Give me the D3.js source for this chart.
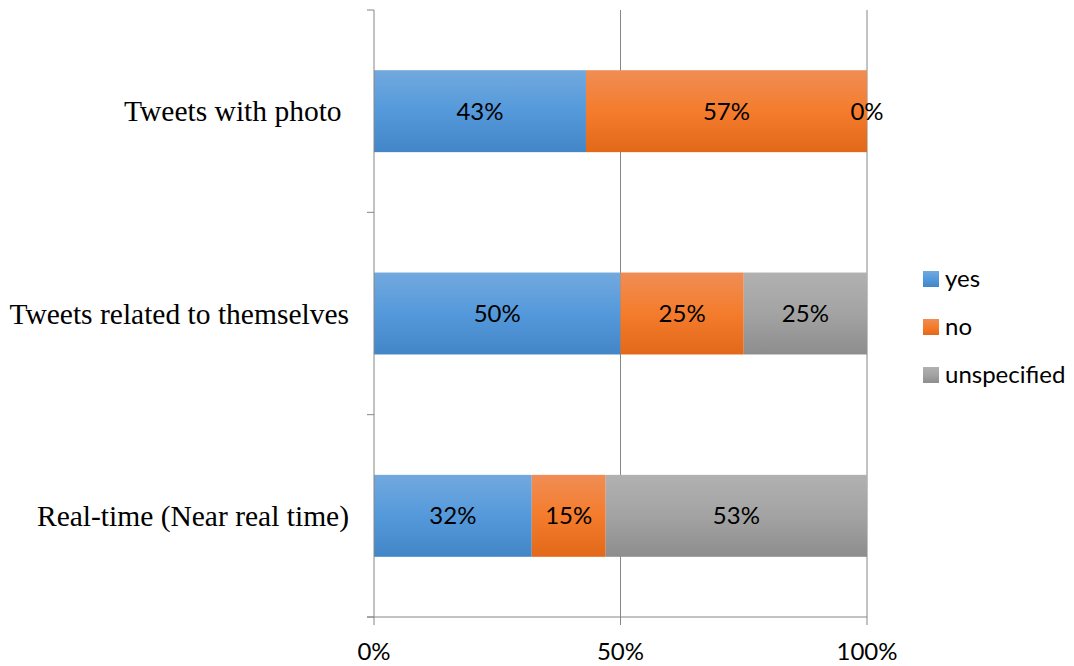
<!DOCTYPE html>
<html>
<head>
  <script src="https://d3js.org/d3.v7.min.js"></script>
  <style>
    body { margin: 0; background: #fff; }
  </style>
</head>
<body>
  <svg id="chart"></svg>
  <script>
    // data
    const categories = ['Tweets with photo ', 'Tweets related to themselves', 'Real-time (Near real time)'];
    const seriesNames = ['yes', 'no', 'unspecified'];
    const yesValues = [43, 50, 32];
    const noValues = [57, 25, 15];
    const unspecifiedValues = [0, 25, 53];
    const tickValues = [0, 50, 100];

    const width = 1074, height = 666;
    const plotLeft = 374, plotRight = 867, plotTop = 10, plotBottom = 617;
    const sansFont = 'Lato, "Open Sans", sans-serif';

    const svg = d3.select('#chart').attr('width', width).attr('height', height);

    const rows = categories.map((c, i) => ({ cat: c, yes: yesValues[i], no: noValues[i], unspecified: unspecifiedValues[i] }));
    const stacked = d3.stack().keys(seriesNames)(rows);

    const x = d3.scaleLinear().domain([0, 100]).range([plotLeft, plotRight]);
    const y = d3.scaleBand().domain(categories).range([plotTop, plotBottom]).paddingInner(0.595).paddingOuter(0.2975);
    const yOuter = d3.scaleBand().domain(categories).range([plotTop, plotBottom]);

    // gradients
    const grads = {
      yes: ['#72a9de', '#5499db', '#4386c8'],
      no: ['#f08d55', '#f47c2c', '#e2681a'],
      unspecified: ['#b1b1b1', '#a3a3a3', '#8d8d8d']
    };
    const defs = svg.append('defs');
    seriesNames.forEach(k => {
      const g = defs.append('linearGradient').attr('id', 'g-' + k)
        .attr('x1', 0).attr('x2', 0).attr('y1', 0).attr('y2', 1);
      g.append('stop').attr('offset', '0%').attr('stop-color', grads[k][0]);
      g.append('stop').attr('offset', '50%').attr('stop-color', grads[k][1]);
      g.append('stop').attr('offset', '100%').attr('stop-color', grads[k][2]);
    });

    // gridlines
    svg.append('g').selectAll('line').data(tickValues.slice(1)).enter().append('line')
      .attr('x1', d => x(d)).attr('x2', d => x(d))
      .attr('y1', plotTop).attr('y2', plotBottom + 8)
      .attr('stroke', '#868686').attr('stroke-width', 1);

    // bars
    svg.append('g').selectAll('g').data(stacked).enter().append('g')
      .attr('fill', d => `url(#g-${d.key})`)
      .selectAll('rect').data(d => d).enter().append('rect')
      .attr('x', d => x(d[0]))
      .attr('y', d => y(d.data.cat))
      .attr('width', d => x(d[1]) - x(d[0]))
      .attr('height', y.bandwidth());

    // value labels
    svg.append('g').selectAll('g').data(stacked).enter().append('g')
      .selectAll('text').data(d => d).enter().append('text')
      .attr('x', d => (x(d[0]) + x(d[1])) / 2)
      .attr('y', d => y(d.data.cat) + y.bandwidth() / 2)
      .attr('dy', '0.35em')
      .attr('text-anchor', 'middle')
      .style('font-family', sansFont)
      .style('font-size', '24px')
      .text(d => (d[1] - d[0]) + '%');

    // y axis
    const yAxis = svg.append('g');
    yAxis.append('line').attr('x1', plotLeft).attr('x2', plotLeft).attr('y1', plotTop).attr('y2', plotBottom + 8)
      .attr('stroke', '#868686');
    yAxis.selectAll('line.tick').data(categories.concat(['end'])).enter().append('line')
      .attr('class', 'tick')
      .attr('x1', plotLeft - 7).attr('x2', plotLeft)
      .attr('y1', (d, i) => i < categories.length ? yOuter(d) : plotBottom)
      .attr('y2', (d, i) => i < categories.length ? yOuter(d) : plotBottom)
      .attr('stroke', '#868686');
    yAxis.selectAll('text').data(categories).enter().append('text')
      .attr('x', 349)
      .attr('y', d => y(d) + y.bandwidth() / 2)
      .attr('dy', '0.35em')
      .attr('text-anchor', 'end')
      .style('white-space', 'pre')
      .style('font-family', '"Liberation Serif", "Times New Roman", serif')
      .style('font-size', '29.5px')
      .text(d => d);

    // x axis
    const xAxis = svg.append('g');
    xAxis.append('line').attr('x1', plotLeft - 7).attr('x2', plotRight).attr('y1', plotBottom).attr('y2', plotBottom)
      .attr('stroke', '#868686');
    xAxis.selectAll('text').data(tickValues).enter().append('text')
      .attr('x', d => x(d))
      .attr('y', 660)
      .attr('text-anchor', 'middle')
      .style('font-family', sansFont)
      .style('font-size', '24px')
      .text(d => d + '%');

    // legend
    const legend = svg.append('g').selectAll('g').data(seriesNames).enter().append('g')
      .attr('transform', (d, i) => `translate(923, ${279 + i * 48})`);
    legend.append('rect').attr('x', 0).attr('y', -8).attr('width', 16).attr('height', 16)
      .attr('fill', d => `url(#g-${d})`);
    legend.append('text').attr('x', 22).attr('dy', '0.35em')
      .style('font-family', sansFont)
      .style('font-size', '24px')
      .text(d => d);
  </script>
</body>
</html>
